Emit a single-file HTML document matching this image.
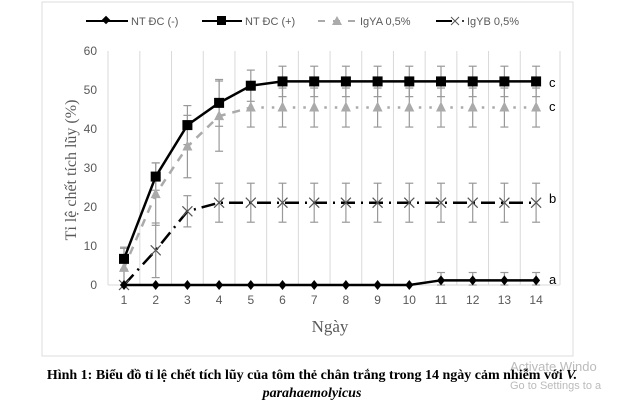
<!DOCTYPE html>
<html><head><meta charset="utf-8"><style>
html,body{margin:0;padding:0;background:#fff;}
body{width:624px;height:409px;overflow:hidden;position:relative;font-family:"Liberation Sans",sans-serif;}
.cap{position:absolute;left:0;width:624px;text-align:center;font-family:"Liberation Serif",serif;font-weight:bold;font-size:14px;color:#000;white-space:nowrap;}
</style></head><body>
<svg id="s" width="624" height="409" style="position:absolute;left:0;top:0" font-family="Liberation Sans, sans-serif">
<rect x="42" y="2" width="531" height="354" fill="#fff" stroke="#ddd"/>
<g id="grid" stroke="#d9d9d9" stroke-width="1"></g>
<g font-size="12" fill="#595959" text-anchor="end">
<text x="97" y="289">0</text><text x="97" y="250">10</text><text x="97" y="211">20</text>
<text x="97" y="172">30</text><text x="97" y="133">40</text><text x="97" y="94">50</text><text x="97" y="55">60</text>
</g>
<g id="xl" font-size="12" fill="#595959" text-anchor="middle"></g>
<text x="330" y="332" font-size="17" fill="#595959" text-anchor="middle" font-family="Liberation Serif, serif">Ngày</text>
<text transform="translate(76,170) rotate(-90)" font-size="16" fill="#595959" text-anchor="middle" font-family="Liberation Serif, serif">Tỉ lệ chết tích lũy (%)</text>
<g id="err" stroke="#999" stroke-width="1.2"></g>
<g id="ser"></g>
<g font-size="13" fill="#000">
<text x="549" y="87">c</text><text x="549" y="111">c</text><text x="549" y="203">b</text><text x="549" y="284">a</text>
</g>
<g font-size="11" fill="#595959">
<line x1="86" y1="21" x2="128" y2="21" stroke="#000" stroke-width="2"/><rect x="103" y="17" width="6" height="6" transform="rotate(45 106 20)" fill="#000"/>
<text x="131" y="25">NT ĐC (-)</text>
<line x1="202" y1="21" x2="242" y2="21" stroke="#000" stroke-width="2"/><rect x="217" y="16" width="9" height="9" fill="#000"/>
<text x="245" y="25">NT ĐC (+)</text>
<line x1="318" y1="21" x2="356" y2="21" stroke="#aaa" stroke-width="2" stroke-dasharray="7,8"/><polygon points="337,16 332,25 342,25" fill="#aaa"/>
<text x="360" y="25">IgYA 0,5%</text>
<line x1="436" y1="21" x2="452" y2="21" stroke="#000" stroke-width="2"/><path d="M451,17 L459,25 M459,17 L451,25" stroke="#555"/><circle cx="463" cy="21" r="1" fill="#000"/>
<text x="467" y="25">IgYB 0,5%</text>
</g>
<text x="510" y="371" font-size="13" fill="#bbb">Activate Windo</text>
<text x="510" y="389" font-size="11" fill="#bbb">Go to Settings to a</text>
</svg>
<div class="cap" style="top:368px">Hình 1: Biểu đồ tỉ lệ chết tích lũy của tôm thẻ chân trắng trong 14 ngày cảm nhiễm với <i>V.</i></div>
<div class="cap" style="top:386px"><i>parahaemolyicus</i></div>
<script>
var NS="http://www.w3.org/2000/svg";
function X(d){return 124+(d-1)*31.7;}
function Y(v){return 285-v*3.9;}
function el(p,t,a){var e=document.createElementNS(NS,t);for(var k in a)e.setAttribute(k,a[k]);document.getElementById(p).appendChild(e);return e;}
el("grid","line",{x1:108,y1:51,x2:108,y2:285});
for(var d=1;d<=14;d++){var x=X(d)+15.85;if(d<14)el("grid","line",{x1:x,y1:51,x2:x,y2:285});
var t=el("xl","text",{x:X(d),y:304});t.textContent=d;}
el("grid","line",{x1:560,y1:51,x2:560,y2:285});
el("grid","line",{x1:108,y1:285,x2:560,y2:285});
var neg=[0,0,0,0,0,0,0,0,0,0,1.2,1.2,1.2,1.2];
var pos=[6.7,27.8,41,46.7,51.1,52.2,52.2,52.2,52.2,52.2,52.2,52.2,52.2,52.2];
var ya=[4.4,23.3,35.5,43.3,45.5,45.5,45.5,45.5,45.5,45.5,45.5,45.5,45.5,45.5];
var yb=[0,8.9,18.9,21.1,21.1,21.1,21.1,21.1,21.1,21.1,21.1,21.1,21.1,21.1];
var ePos=[3,3.5,5,6,4,3.9,3.9,3.9,3.9,3.9,3.9,3.9,3.9,3.9];
var eYa=[5,8,8,9,5,5,5,5,5,5,5,5,5,5];
var eYb=[4,7,4,5,5,5,5,5,5,5,5,5,5,5];
var eNeg=[0,0,0,0,0,0,0,0,0,0,2,2,2,2];
function eb(v,e){for(var i=0;i<14;i++){if(!e[i])continue;var x=X(i+1),a=Y(v[i]+e[i]),b=Y(Math.max(0,v[i]-e[i]));
el("err","line",{x1:x,y1:a,x2:x,y2:b});el("err","line",{x1:x-4,y1:a,x2:x+4,y2:a});el("err","line",{x1:x-4,y1:b,x2:x+4,y2:b});}}
eb(pos,ePos);eb(ya,eYa);eb(yb,eYb);eb(neg,eNeg);
function pts(v){return v.map(function(y,i){return X(i+1)+","+Y(y);}).join(" ");}
el("ser","polyline",{points:pts(yb),fill:"none",stroke:"#000","stroke-width":2.5,"stroke-dasharray":"14,6,2,6"});
yb.forEach(function(v,i){var x=X(i+1),y=Y(v);el("ser","path",{d:"M"+(x-5)+","+(y-5)+"L"+(x+5)+","+(y+5)+"M"+(x+5)+","+(y-5)+"L"+(x-5)+","+(y+5),stroke:"#555","stroke-width":1.2});});
el("ser","polyline",{points:pts(ya.slice(0,5)),fill:"none",stroke:"#aaa","stroke-width":2.5,"stroke-dasharray":"8,7"});
el("ser","line",{x1:X(5),y1:Y(45.5),x2:X(14),y2:Y(45.5),stroke:"#aaa","stroke-width":2.5,"stroke-dasharray":"2.5,8"});
ya.forEach(function(v,i){var x=X(i+1),y=Y(v);el("ser","polygon",{points:x+","+(y-6)+" "+(x-5)+","+(y+4)+" "+(x+5)+","+(y+4),fill:"#aaa"});});
el("ser","polyline",{points:pts(pos),fill:"none",stroke:"#000","stroke-width":2.5});
pos.forEach(function(v,i){var x=X(i+1),y=Y(v);el("ser","rect",{x:x-5,y:y-5,width:10,height:10,fill:"#000"});});
el("ser","polyline",{points:pts(neg),fill:"none",stroke:"#000","stroke-width":2.5});
neg.forEach(function(v,i){var x=X(i+1),y=Y(v);el("ser","polygon",{points:x+","+(y-5)+" "+(x+4)+","+y+" "+x+","+(y+5)+" "+(x-4)+","+y,fill:"#000"});});
</script>
</body></html>
